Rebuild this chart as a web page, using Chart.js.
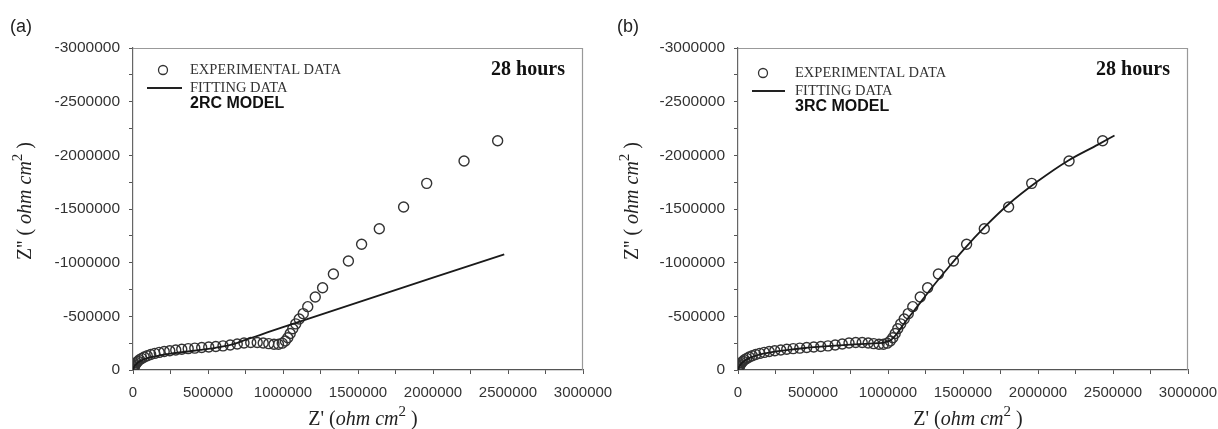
<!DOCTYPE html>
<html>
<head>
<meta charset="utf-8">
<script src="https://cdn.jsdelivr.net/npm/chart.js@4/dist/chart.umd.min.js"></script>
<style>
  body { margin: 0; background: #fff; }
  .panel { position: absolute; top: 0; height: 429px; }
</style>
</head>
<body>
<div class="panel" style="left:609px;width:609px"><canvas id="chart_b" width="609" height="429"></canvas></div>
<div class="panel" style="left:0;width:650px"><canvas id="chart_a" width="650" height="429"></canvas></div>
<script>
// experimental data (same 28 h spectrum in both panels), Z' and Z'' in ohm cm2
var expZr = [0, 500, 1000, 2500, 5000, 8000, 12000, 17000, 24000, 33000, 44000, 58000, 75000, 95000, 118000,
  145000, 175000, 208000, 245000, 285000, 325000, 368000, 412000, 458000, 505000, 552000, 600000, 648000,
  695000, 740000, 785000, 828000, 868000, 905000, 940000, 970000, 995000, 1015000, 1032000, 1048000,
  1065000, 1085000, 1108000, 1135000, 1165000, 1215000, 1264000, 1336000, 1436000, 1524000, 1642000,
  1804000, 1958000, 2207000, 2431000];
var expZi = [0, -3000, -6000, -13000, -22000, -32000, -43000, -55000, -68000, -82000, -95000, -108000, -121000,
  -133000, -144000, -155000, -164000, -172000, -180000, -187000, -193000, -199000, -204000, -209000,
  -214000, -219000, -225000, -233000, -242000, -251000, -256000, -256000, -252000, -246000, -240000,
  -240000, -250000, -270000, -300000, -340000, -385000, -430000, -475000, -525000, -590000, -680000,
  -767000, -894000, -1016000, -1171000, -1316000, -1519000, -1739000, -1947000, -2136000];

// 2RC model fit
var fit2Zr = [0, 3000, 10000, 25000, 50000, 90000, 150000, 250000, 350000, 450000, 550000, 650000,
  750000, 850000, 1000000, 1500000, 2000000, 2475000];
var fit2Zi = [0, -15000, -35000, -60000, -85000, -108000, -128000, -152000, -170000, -187000, -207000,
  -235000, -280000, -328000, -400000, -630000, -860000, -1078000];

// 3RC model fit
var fit3Zr = [0, 3000, 10000, 25000, 50000, 90000, 150000, 250000, 350000, 450000, 550000, 650000,
  750000, 850000, 930000, 980000, 1020000, 1060000, 1100000, 1200000, 1300000, 1400000, 1500000,
  1650000, 1800000, 2000000, 2200000, 2400000, 2510000];
var fit3Zi = [0, -15000, -36000, -63000, -92000, -120000, -146000, -172000, -190000, -205000, -217000,
  -228000, -237000, -244000, -250000, -258000, -280000, -340000, -420000, -600000, -780000, -950000,
  -1115000, -1340000, -1540000, -1760000, -1950000, -2100000, -2185000];

var axisMin = 0, axisMax = 3000000, minorStep = 250000, labelStep = 500000;

var serif = "'Liberation Serif', 'Times New Roman', serif";
var sans = "'Liberation Sans', Arial, sans-serif";

function toPoints(xs, ys) {
  var pts = [];
  for (var i = 0; i < xs.length; i++) pts.push({ x: xs[i], y: ys[i] });
  return pts;
}

function drawParts(ctx, parts, x, y) {
  var total = 0;
  parts.forEach(function (p) { ctx.font = p.f; total += ctx.measureText(p.t).width; });
  var cx = x - total / 2;
  parts.forEach(function (p) {
    ctx.font = p.f;
    ctx.fillText(p.t, cx, y + (p.dy || 0));
    cx += ctx.measureText(p.t).width;
  });
}

var decorPlugin = {
  id: 'decor',
  afterDraw: function (chart) {
    var o = chart.options.plugins.decor;
    var ctx = chart.ctx, a = chart.chartArea;
    ctx.save();
    // top and right frame
    ctx.strokeStyle = '#999';
    ctx.lineWidth = 1.2;
    ctx.beginPath();
    ctx.moveTo(a.left, a.top + 0.5);
    ctx.lineTo(a.right - 0.5, a.top + 0.5);
    ctx.lineTo(a.right - 0.5, a.bottom);
    ctx.stroke();

    ctx.fillStyle = '#222';
    ctx.textBaseline = 'middle';
    // panel label
    ctx.font = '18px ' + sans;
    ctx.textAlign = 'left';
    ctx.fillText(o.panel, o.panelX, 27);

    // legend
    var lx = a.left;
    ctx.strokeStyle = '#333';
    ctx.lineWidth = 1.3;
    ctx.beginPath();
    ctx.arc(lx + o.markX, o.legY, 4.5, 0, Math.PI * 2);
    ctx.stroke();
    ctx.lineWidth = 2;
    ctx.strokeStyle = '#222';
    ctx.beginPath();
    ctx.moveTo(lx + 14, o.legY + 18);
    ctx.lineTo(lx + o.lineEnd, o.legY + 18);
    ctx.stroke();
    ctx.fillStyle = '#333';
    ctx.font = '14.5px ' + serif;
    ctx.fillText('EXPERIMENTAL DATA', lx + 57, o.legY);
    ctx.fillText('FITTING DATA', lx + 57, o.legY + 18);
    ctx.fillStyle = '#111';
    ctx.font = 'bold 16px ' + sans;
    ctx.fillText(o.model, lx + 57, o.legY + 34);

    ctx.font = 'bold 20px ' + serif;
    ctx.textAlign = 'right';
    ctx.fillText('28 hours', a.right - 18, 70);

    // axis titles
    ctx.fillStyle = '#222';
    ctx.textAlign = 'left';
    ctx.textBaseline = 'alphabetic';
    drawParts(ctx, [
      { t: "Z' (", f: '20px ' + serif },
      { t: 'ohm cm', f: 'italic 20px ' + serif },
      { t: '2', f: '15px ' + serif, dy: -9 },
      { t: ' )', f: '20px ' + serif }
    ], (a.left + a.right) / 2 + 5, 425);

    ctx.translate(o.yTitleX, (a.top + a.bottom) / 2 - 8);
    ctx.rotate(-Math.PI / 2);
    drawParts(ctx, [
      { t: "Z'' ( ", f: '20px ' + serif },
      { t: 'ohm cm', f: 'italic 20px ' + serif },
      { t: '2', f: '15px ' + serif, dy: -9 },
      { t: ' )', f: '20px ' + serif }
    ], 0, 0);
    ctx.restore();
  }
};

function tickLabel(v) {
  return v % labelStep === 0 ? String(v) : '';
}

function makeChart(id, fitX, fitY, cfg) {
  var ctx = document.getElementById(id).getContext('2d');
  return new Chart(ctx, {
    type: 'scatter',
    data: {
      datasets: [
        {
          label: 'EXPERIMENTAL DATA',
          data: toPoints(expZr, expZi),
          pointStyle: 'circle',
          pointRadius: 5,
          pointBorderWidth: 1.4,
          pointBorderColor: '#333',
          pointBackgroundColor: 'rgba(255,255,255,0)',
          showLine: false,
          order: 2
        },
        {
          label: 'FITTING DATA',
          data: toPoints(fitX, fitY),
          showLine: true,
          pointRadius: 0,
          borderColor: '#1a1a1a',
          borderWidth: 1.8,
          cubicInterpolationMode: 'monotone',
          order: 1
        }
      ]
    },
    options: {
      responsive: false,
      animation: false,
      layout: { padding: { left: 0, right: cfg.padRight, top: 48, bottom: 0 } },
      plugins: {
        legend: { display: false },
        tooltip: { enabled: false },
        decor: cfg
      },
      scales: {
        x: {
          type: 'linear',
          min: axisMin,
          max: axisMax,
          grid: { drawOnChartArea: false, tickLength: 4, color: '#555' },
          border: { color: '#555', width: 1.2 },
          ticks: {
            stepSize: minorStep,
            autoSkip: false,
            maxRotation: 0,
            padding: 10,
            color: '#333',
            font: { family: sans, size: 15 },
            callback: tickLabel
          },
          afterFit: function (s) { s.height = 59; s.paddingLeft = 0; s.paddingRight = 0; }
        },
        y: {
          type: 'linear',
          reverse: true,
          min: -axisMax,
          max: axisMin,
          grid: { drawOnChartArea: false, tickLength: 4, color: '#555' },
          border: { color: '#666', width: 1.2 },
          ticks: {
            stepSize: minorStep,
            autoSkip: false,
            padding: 9,
            color: '#333',
            font: { family: sans, size: 15.5 },
            callback: tickLabel
          },
          afterFit: function (s) { s.width = cfg.axisW; s.paddingTop = 0; s.paddingBottom = 0; }
        }
      }
    },
    plugins: [decorPlugin]
  });
}

makeChart('chart_a', fit2Zr, fit2Zi, {
  panel: '(a)', panelX: 10, model: '2RC MODEL', legY: 70, markX: 30, lineEnd: 49,
  yTitleX: 31, axisW: 133, padRight: 67
});
makeChart('chart_b', fit3Zr, fit3Zi, {
  panel: '(b)', panelX: 8, model: '3RC MODEL', legY: 73, markX: 25, lineEnd: 47,
  yTitleX: 29, axisW: 129, padRight: 30
});
</script>
</body>
</html>
